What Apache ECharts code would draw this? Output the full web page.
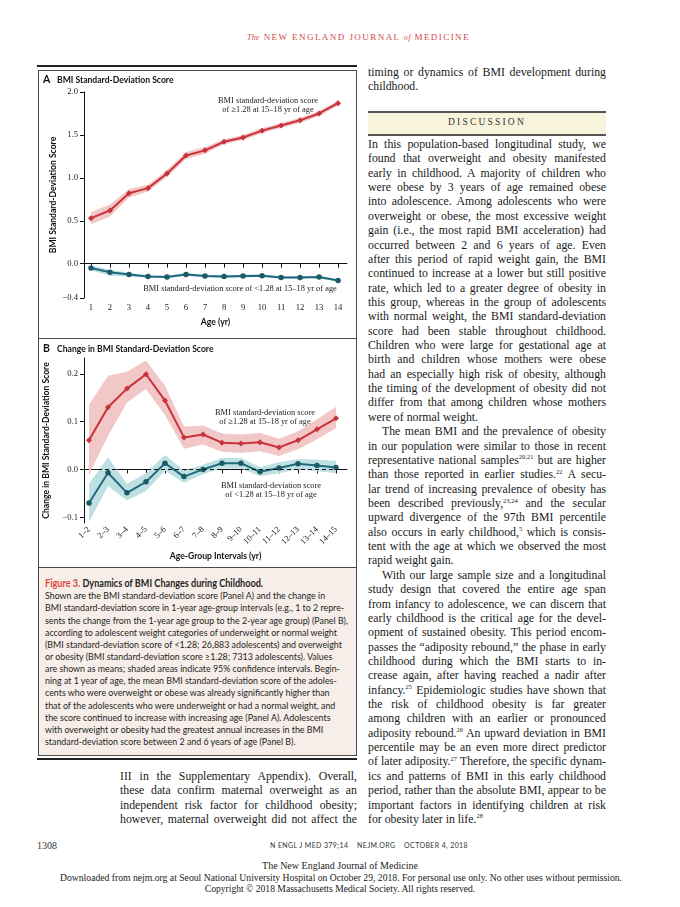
<!DOCTYPE html>
<html><head><meta charset="utf-8">
<script src="https://cdn.jsdelivr.net/npm/echarts@6/dist/echarts.min.js"></script>
<style>
html,body{margin:0;padding:0;background:#fff;}
#page{position:relative;width:680px;height:907px;overflow:hidden;background:#fff;}
.abs{position:absolute;}
.ln{position:absolute;white-space:nowrap;font-family:"Liberation Serif",serif;font-size:11.8px;line-height:14.4px;height:14.4px;color:#1a1a1a;}
.ln span,.cap span,.fx span{display:inline-block;white-space:nowrap;transform-origin:0 50%;}
sup{font-size:6.5px;line-height:0;vertical-align:baseline;position:relative;top:-4.5px;}
.cap{position:absolute;white-space:nowrap;font-family:Lato,"Noto Sans",sans-serif;font-size:10px;line-height:12px;height:12px;color:#231f20;}
.fx{position:absolute;white-space:nowrap;}
#chart{position:absolute;left:0;top:0;width:680px;height:907px;z-index:5;}
</style></head>
<body><div id="page">
  <div class="fx" id="hdr" style="left:247px;top:31px;font-family:'Liberation Serif',serif;font-size:9px;line-height:12px;color:#d2464a;letter-spacing:1.4px;"><span><i style="font-size:8px;letter-spacing:0.3px">The</i> NEW ENGLAND JOURNAL <i style="font-size:8px;letter-spacing:0.3px">of</i> MEDICINE</span></div>

  <!-- figure frame -->
  <div class="abs" style="left:37px;top:64.5px;width:320px;height:2.5px;background:#222;"></div>
  <div class="abs" style="left:38px;top:70px;width:317px;height:684px;border:1px solid #4a4a4a;"></div>
  <div class="abs" style="left:39px;top:337.5px;width:317px;height:1px;background:#4a4a4a;"></div>
  <div class="abs" style="left:39px;top:567px;width:317px;height:187px;background:#f7eeea;border-top:1px solid #4a4a4a;"></div>
  <div class="abs" style="left:37px;top:757.5px;width:320px;height:2.5px;background:#222;"></div>
  <div id="caption"></div>

  <!-- discussion bar -->
  <div class="abs" style="left:368px;top:110.5px;width:238px;height:21px;background:#f8f4dc;border-top:2px solid #555;border-bottom:2px solid #555;"></div>
  <div class="abs" style="left:368px;top:116px;width:238px;text-align:center;font-family:'Liberation Serif',serif;font-size:9.5px;line-height:12px;letter-spacing:2.2px;color:#333;">DISCUSSION</div>

  <div id="text"></div>

  <!-- footer -->
  <div class="abs" style="left:37px;top:840px;font-family:'Liberation Serif',serif;font-size:10px;line-height:12px;color:#333;">1308</div>
  <div class="fx" id="ftr" style="left:270px;top:841px;font-family:Lato,sans-serif;font-size:7.2px;line-height:10px;color:#333;letter-spacing:0.4px;"><span>N ENGL J MED 379;14&nbsp;&nbsp;&nbsp; NEJM.ORG&nbsp;&nbsp;&nbsp; OCTOBER 4, 2018</span></div>
  <div class="abs" style="left:0;top:860px;width:680px;text-align:center;font-family:'Liberation Serif',serif;font-size:10px;line-height:12px;color:#222;">The New England Journal of Medicine</div>
  <div class="fx" id="dl" style="left:60px;top:871.5px;font-family:'Liberation Serif',serif;font-size:9.6px;line-height:12px;color:#222;"><span>Downloaded from nejm.org at Seoul National University Hospital on October 29, 2018. For personal use only. No other uses without permission.</span></div>
  <div class="abs" style="left:0;top:883px;width:680px;text-align:center;font-family:'Liberation Serif',serif;font-size:9.6px;line-height:12px;color:#222;">Copyright © 2018 Massachusetts Medical Society. All rights reserved.</div>

  <div id="chart"></div>
</div>
<script>
// ---------------- DATA ----------------
const ages = [1,2,3,4,5,6,7,8,9,10,11,12,13,14];
const aHighMean = [0.53,0.62,0.82,0.88,1.05,1.26,1.32,1.42,1.47,1.55,1.61,1.67,1.75,1.87];
const aHighLow  = [0.46,0.55,0.77,0.84,1.01,1.22,1.28,1.39,1.44,1.52,1.58,1.64,1.72,1.84];
const aHighUp   = [0.60,0.69,0.87,0.92,1.09,1.30,1.36,1.45,1.50,1.58,1.64,1.70,1.78,1.90];
const aLowMean  = [-0.05,-0.10,-0.125,-0.15,-0.155,-0.125,-0.145,-0.15,-0.145,-0.14,-0.16,-0.16,-0.155,-0.195];
const aLowLow   = [-0.08,-0.14,-0.15,-0.165,-0.17,-0.14,-0.16,-0.165,-0.16,-0.155,-0.175,-0.175,-0.17,-0.21];
const aLowUp    = [-0.02,-0.07,-0.105,-0.135,-0.14,-0.11,-0.13,-0.135,-0.13,-0.125,-0.145,-0.145,-0.14,-0.18];
const aYTicks = [-0.4,0,0.5,1.0,1.5,2.0];

const intervalLabels = ['1–2','2–3','3–4','4–5','5–6','6–7','7–8','8–9','9–10','10–11','11–12','12–13','13–14','14–15'];
const intervalPos = [1,2,3,4,5,6,7,8,9,10,11,12,13,14];
const bHighMean = [0.061,0.130,0.169,0.199,0.144,0.067,0.073,0.056,0.054,0.057,0.046,0.061,0.084,0.107];
const bHighLow  = [-0.010,0.070,0.140,0.168,0.114,0.043,0.052,0.037,0.035,0.038,0.028,0.042,0.063,0.086];
const bHighUp   = [0.135,0.196,0.204,0.228,0.175,0.090,0.092,0.075,0.073,0.076,0.064,0.080,0.105,0.131];
const bLowMean  = [-0.070,-0.007,-0.049,-0.026,0.013,-0.015,0.000,0.013,0.013,-0.005,0.003,0.012,0.008,0.004];
const bLowLow   = [-0.110,-0.035,-0.065,-0.045,-0.003,-0.028,-0.010,0.002,0.002,-0.014,-0.008,0.000,-0.004,-0.008];
const bLowUp    = [-0.030,0.025,-0.030,-0.008,0.030,-0.002,0.010,0.024,0.024,0.005,0.015,0.022,0.020,0.018];
const bYTicks = [-0.1,0,0.1,0.2];

// ---------------- TEXT ----------------
const rightTop = [['timing or dynamics of BMI development during','j'],['childhood.','l']];
const rightBody = [
['In this population-based longitudinal study, we','j'],
['found that overweight and obesity manifested','j'],
['early in childhood. A majority of children who','j'],
['were obese by 3 years of age remained obese','j'],
['into adolescence. Among adolescents who were','j'],
['overweight or obese, the most excessive weight','j'],
['gain (i.e., the most rapid BMI acceleration) had','j'],
['occurred between 2 and 6 years of age. Even','j'],
['after this period of rapid weight gain, the BMI','j'],
['continued to increase at a lower but still positive','j'],
['rate, which led to a greater degree of obesity in','j'],
['this group, whereas in the group of adolescents','j'],
['with normal weight, the BMI standard-deviation','j'],
['score had been stable throughout childhood.','j'],
['Children who were large for gestational age at','j'],
['birth and children whose mothers were obese','j'],
['had an especially high risk of obesity, although','j'],
['the timing of the development of obesity did not','j'],
['differ from that among children whose mothers','j'],
['were of normal weight.','l'],
['The mean BMI and the prevalence of obesity','ij'],
['in our population were similar to those in recent','j'],
['representative national samples<sup>20,21</sup> but are higher','j'],
['than those reported in earlier studies.<sup>22</sup> A secu-','j'],
['lar trend of increasing prevalence of obesity has','j'],
['been described previously,<sup>23,24</sup> and the secular','j'],
['upward divergence of the 97th BMI percentile','j'],
['also occurs in early childhood,<sup>5</sup> which is consis-','j'],
['tent with the age at which we observed the most','j'],
['rapid weight gain.','l'],
['With our large sample size and a longitudinal','ij'],
['study design that covered the entire age span','j'],
['from infancy to adolescence, we can discern that','j'],
['early childhood is the critical age for the devel-','j'],
['opment of sustained obesity. This period encom-','j'],
['passes the “adiposity rebound,” the phase in early','j'],
['childhood during which the BMI starts to in-','j'],
['crease again, after having reached a nadir after','j'],
['infancy.<sup>25</sup> Epidemiologic studies have shown that','j'],
['the risk of childhood obesity is far greater','j'],
['among children with an earlier or pronounced','j'],
['adiposity rebound.<sup>26</sup> An upward deviation in BMI','j'],
['percentile may be an even more direct predictor','j'],
['of later adiposity.<sup>27</sup> Therefore, the specific dynam-','j'],
['ics and patterns of BMI in this early childhood','j'],
['period, rather than the absolute BMI, appear to be','j'],
['important factors in identifying children at risk','j'],
['for obesity later in life.<sup>28</sup>','l']
];
const leftBottom = [
'III in the Supplementary Appendix). Overall,',
'these data confirm maternal overweight as an',
'independent risk factor for childhood obesity;',
'however, maternal overweight did not affect the'
];
const captionLines = [
'Shown are the BMI standard-deviation score (Panel A) and the change in',
'BMI standard-deviation score in 1-year age-group intervals (e.g., 1 to 2 repre-',
'sents the change from the 1-year age group to the 2-year age group) (Panel B),',
'according to adolescent weight categories of underweight or normal weight',
'(BMI standard-deviation score of &lt;1.28; 26,883 adolescents) and overweight',
'or obesity (BMI standard-deviation score ≥1.28; 7313 adolescents). Values',
'are shown as means; shaded areas indicate 95% confidence intervals. Begin-',
'ning at 1 year of age, the mean BMI standard-deviation score of the adoles-',
'cents who were overweight or obese was already significantly higher than',
'that of the adolescents who were underweight or had a normal weight, and',
'the score continued to increase with increasing age (Panel A). Adolescents',
'with overweight or obesity had the greatest annual increases in the BMI',
'standard-deviation score between 2 and 6 years of age (Panel B).'
];

// ---------------- BUILD TEXT ----------------
const textBox = document.getElementById('text');
const LH = 14.36;
function addLine(html, left, center, width, type){
  const d = document.createElement('div');
  d.className = 'ln';
  let indent = type === 'ij' ? 14 : 0;
  d.style.left = (left + indent) + 'px';
  d.style.top = (center - 7.2) + 'px';
  d.innerHTML = '<span>' + html + '</span>';
  textBox.appendChild(d);
  const sp = d.firstChild;
  const w = sp.getBoundingClientRect().width;
  const target = width - indent;
  if (type === 'j' || type === 'ij') {
    const n = (sp.textContent.match(/ /g) || []).length;
    const ws = n ? (target - w) / n : 0;
    if (ws > -1.0) sp.style.wordSpacing = ws + 'px';
    else sp.style.transform = 'scaleX(' + (target / w) + ')';
  } else if (w > target) {
    sp.style.transform = 'scaleX(' + (target / w) + ')';
  }
}
rightTop.forEach((l, i) => addLine(l[0], 368, 72 + i * 14.4, 238, l[1]));
rightBody.forEach((l, i) => addLine(l[0], 368, 144.2 + i * LH, 238, l[1]));
leftBottom.forEach((l, i) => addLine(l, 120, 144.2 + (44 + i) * LH, 237, 'j'));

const cap = document.getElementById('caption');
(function(){
  const t = document.createElement('div');
  t.className = 'cap';
  t.style.left = '45px'; t.style.top = (583.5 - 6.5) + 'px';
  t.style.fontSize = '10.6px'; t.style.height = '13px'; t.style.lineHeight = '13px';
  t.innerHTML = '<span><span style="color:#d9473d;font-weight:700">Figure 3.</span> <span style="font-weight:700">Dynamics of BMI Changes during Childhood.</span></span>';
  cap.appendChild(t);
  const els = captionLines.map((l, i) => {
    const d = document.createElement('div');
    d.className = 'cap';
    d.style.left = '45px';
    d.style.top = (595.3 + i * 12.14 - 6) + 'px';
    d.innerHTML = '<span>' + l + '</span>';
    cap.appendChild(d);
    return d;
  });
  const widths = els.map(d => d.firstChild.getBoundingClientRect().width);
  let f = Math.min(308 / widths[1], 303 / widths[2]);
  widths.forEach(w => { if (w * f > 305) f = 305 / w; });
  els.forEach(d => d.firstChild.style.transform = 'scaleX(' + f + ')');
  const tw = t.firstChild.getBoundingClientRect().width;
  t.firstChild.style.transform = 'scaleX(' + (218 / tw) + ')';
})();
function fitFx(id, target){
  const sp = document.getElementById(id).firstElementChild;
  const w = sp.getBoundingClientRect().width;
  sp.style.transform = 'scaleX(' + (target / w) + ')';
}
fitFx('hdr', 223);
fitFx('ftr', 198);
fitFx('dl', 562);

// ---------------- CHART ----------------
const RED = '#c9323a', RED_BAND = '#f1c7c7';
const BLUE = '#1f6b7e', BLUE_DOT = '#1c5a68', BLUE_BAND = '#bfe0e3';
const SERIF = 'Liberation Serif';
const SANS = 'Lato';
const fmt = v => (v < 0 ? '−' : '') + Math.abs(v).toFixed(1);

function bandSeries(xs, lo, up, color, gi, extra){
  return Object.assign({
    type: 'custom', xAxisIndex: gi, yAxisIndex: gi, z: 1, silent: true,
    data: xs.map((x, i) => [x, lo[i], up[i]]),
    encode: { x: 0, y: [1, 2] },
    renderItem: function(params, api){
      if (params.dataIndex !== 0) return null;
      const pts = [];
      for (let i = 0; i < xs.length; i++) pts.push(api.coord([xs[i], up[i]]));
      for (let i = xs.length - 1; i >= 0; i--) pts.push(api.coord([xs[i], lo[i]]));
      return { type: 'polygon', shape: { points: pts }, style: { fill: color } };
    }
  }, extra || {});
}
const zeroLine = {
  markLine: {
    silent: true, symbol: ['none', 'none'], label: { show: false },
    lineStyle: { color: '#111', type: [4, 3], width: 1 },
    data: [{ yAxis: 0 }]
  }
};
function lineSeries(xs, ys, gi, color, dot, symbol, size){
  return {
    type: 'line', xAxisIndex: gi, yAxisIndex: gi, z: 3, silent: true,
    data: xs.map((x, i) => [x, ys[i]]),
    symbol: symbol, symbolSize: size, showSymbol: true,
    lineStyle: { color: color, width: 2 },
    itemStyle: { color: dot }
  };
}
const axisLineStyle = { show: true, lineStyle: { color: '#111', width: 1 } };
const tickStyle = { show: true, length: 4, lineStyle: { color: '#111', width: 1 } };
const labelStyle = { color: '#222', fontFamily: SERIF, fontSize: 8.6 };
const nameStyle = { color: '#111', fontFamily: SANS, fontSize: 8.6, fontWeight: 'bold' };

const txt = (x, y, text, opts) => ({
  type: 'text', x: x, y: y, silent: true,
  style: Object.assign({ text: text, fill: '#222', font: '8.4px "Liberation Serif"', align: 'center', verticalAlign: 'middle' }, opts || {})
});

const option = {
  animation: false,
  grid: [
    { left: 84, right: 333, top: 92, bottom: 609 },
    { left: 84, right: 333, top: 358, bottom: 384 }
  ],
  xAxis: [
    { type: 'value', gridIndex: 0, min: 0.632, max: 14.47,
      axisLine: axisLineStyle, axisTick: Object.assign({ customValues: ages }, tickStyle),
      axisLabel: Object.assign({ customValues: ages, margin: 5, formatter: v => String(Math.round(v)) }, labelStyle),
      splitLine: { show: false },
      name: 'Age (yr)', nameLocation: 'middle', nameGap: 20, nameTextStyle: nameStyle },
    { type: 'value', gridIndex: 1, min: 0.737, max: 14.58,
      axisLine: axisLineStyle, axisTick: Object.assign({ customValues: intervalPos }, tickStyle),
      axisLabel: Object.assign({ customValues: intervalPos, margin: 5, rotate: 45,
        formatter: v => intervalLabels[Math.round(v) - 1] }, labelStyle),
      splitLine: { show: false },
      name: 'Age-Group Intervals (yr)', nameLocation: 'middle', nameGap: 29, nameTextStyle: nameStyle }
  ],
  yAxis: [
    { type: 'value', gridIndex: 0, min: -0.4, max: 2.0,
      axisLine: axisLineStyle, axisTick: Object.assign({ customValues: aYTicks }, tickStyle),
      axisLabel: Object.assign({ customValues: aYTicks, margin: 6, formatter: fmt }, labelStyle),
      splitLine: { show: false },
      name: 'BMI Standard-Deviation Score', nameLocation: 'middle', nameGap: 26, nameRotate: 90, nameTextStyle: nameStyle },
    { type: 'value', gridIndex: 1, min: -0.112, max: 0.233,
      axisLine: axisLineStyle, axisTick: Object.assign({ customValues: bYTicks }, tickStyle),
      axisLabel: Object.assign({ customValues: bYTicks, margin: 6, formatter: fmt }, labelStyle),
      splitLine: { show: false },
      name: 'Change in BMI Standard-Deviation Score', nameLocation: 'middle', nameGap: 33, nameRotate: 90, nameTextStyle: nameStyle }
  ],
  series: [
    bandSeries(ages, aHighLow, aHighUp, RED_BAND, 0),
    bandSeries(ages, aLowLow, aLowUp, BLUE_BAND, 0, zeroLine),
    lineSeries(ages, aHighMean, 0, RED, RED, 'diamond', 6),
    lineSeries(ages, aLowMean, 0, BLUE, BLUE_DOT, 'circle', 5.5),
    bandSeries(intervalPos, bHighLow, bHighUp, RED_BAND, 1),
    bandSeries(intervalPos, bLowLow, bLowUp, BLUE_BAND, 1, zeroLine),
    lineSeries(intervalPos, bHighMean, 1, RED, RED, 'diamond', 6),
    lineSeries(intervalPos, bLowMean, 1, BLUE, BLUE_DOT, 'circle', 5.5)
  ],
  graphic: [
    txt(43, 80, 'A', { font: 'bold 10.5px Lato', fill: '#111', align: 'left' }),
    txt(57, 80, 'BMI Standard-Deviation Score', { font: 'bold 8.6px Lato', fill: '#111', align: 'left' }),
    txt(43, 349, 'B', { font: 'bold 10.5px Lato', fill: '#111', align: 'left' }),
    txt(57, 349, 'Change in BMI Standard-Deviation Score', { font: 'bold 8.6px Lato', fill: '#111', align: 'left' }),
    txt(268, 100.7, 'BMI standard-deviation score'),
    txt(268, 110.3, 'of ≥1.28 at 15–18 yr of age'),
    txt(240, 288.5, 'BMI standard-deviation score of <1.28 at 15–18 yr of age'),
    txt(265, 412.8, 'BMI standard-deviation score'),
    txt(265, 422.2, 'of ≥1.28 at 15–18 yr of age'),
    txt(271, 486, 'BMI standard-deviation score'),
    txt(271, 495.3, 'of <1.28 at 15–18 yr of age')
  ]
};
const chart = echarts.init(document.getElementById('chart'), null, { renderer: 'canvas' });
chart.setOption(option);
</script>
</body></html>
